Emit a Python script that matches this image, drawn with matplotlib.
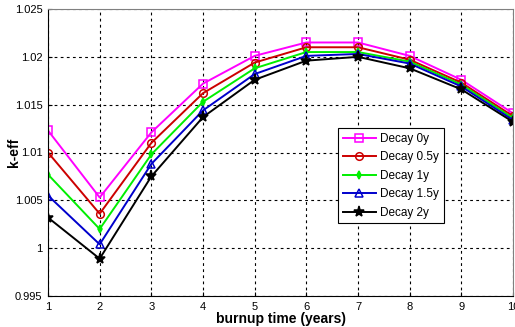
import numpy as np
import matplotlib
matplotlib.use('Agg')
import matplotlib.pyplot as plt
from matplotlib.ticker import FuncFormatter

plt.rcParams['font.family'] = ['Liberation Sans', 'DejaVu Sans']

# burnup time (years)
years = [1, 2, 3, 4, 5, 6, 7, 8, 9, 10]

# k-eff for each decay time
decay_0y = [1.0123, 1.0053, 1.0121, 1.0172, 1.0201, 1.0215, 1.0215, 1.0201, 1.0176, 1.0141]
decay_05y = [1.0100, 1.0036, 1.0110, 1.0162, 1.0194, 1.0210, 1.0210, 1.0197, 1.0173, 1.0138]
decay_1y = [1.0077, 1.0020, 1.0098, 1.0153, 1.0188, 1.0205, 1.0205, 1.0195, 1.0171, 1.0136]
decay_15y = [1.0055, 1.0004, 1.0088, 1.0144, 1.0182, 1.0201, 1.0203, 1.0193, 1.0169, 1.0134]
decay_2y = [1.0032, 0.9989, 1.0075, 1.0137, 1.0176, 1.0196, 1.0200, 1.0188, 1.0166, 1.0132]

labels = ['Decay 0y', 'Decay 0.5y', 'Decay 1y', 'Decay 1.5y', 'Decay 2y']

fig = plt.figure(figsize=(5.15, 3.27), dpi=100)
ax = fig.add_axes([48/515, 1-296/327, 465/515, 287/327])

styles = [
    dict(color='#ff00ff', marker='s', mfc='none', ms=6),
    dict(color='#cc0000', marker='o', mfc='none', ms=5.5),
    dict(color='#00ee00', marker='d', mfc='#00ee00', ms=4),
    dict(color='#0000cc', marker='^', mfc='none', ms=6),
    dict(color='black', marker='*', mfc='black', ms=8),
]
series = [decay_0y, decay_05y, decay_1y, decay_15y, decay_2y]
for ys, lab, st in zip(series, labels, styles):
    ax.plot(years, ys, lw=1.4, mew=1.1, label=lab, **st)

ax.set_xlim(1, 10)
ax.set_ylim(0.995, 1.025)
ax.set_xticks(years)
ax.set_yticks([0.995, 1.0, 1.005, 1.01, 1.015, 1.02, 1.025])
ax.yaxis.set_major_formatter(FuncFormatter(lambda v, p: '%g' % round(v, 4)))
ax.tick_params(direction='in', labelsize=8, length=3, pad=4)
ax.grid(True, color='black', linestyle=(0, (2.5, 3)), linewidth=0.8)

for s in ['top', 'right']:
    ax.spines[s].set_color('#808080')

ax.set_xlabel('burnup time (years)', fontweight='bold', fontsize=10, labelpad=0)
ax.set_ylabel('k-eff', fontweight='bold', fontsize=10)
ax.yaxis.set_label_coords(-0.058, 0.5)

leg = ax.legend(loc='upper left', bbox_to_anchor=((338-48)/465, (296-128)/287),
                borderaxespad=0, fontsize=8.5, fancybox=False, framealpha=1,
                edgecolor='black', handlelength=2.8, borderpad=0.4,
                labelspacing=0.55, handletextpad=0.4)
leg.get_frame().set_linewidth(0.8)

fig.savefig('out.png', dpi=100)
